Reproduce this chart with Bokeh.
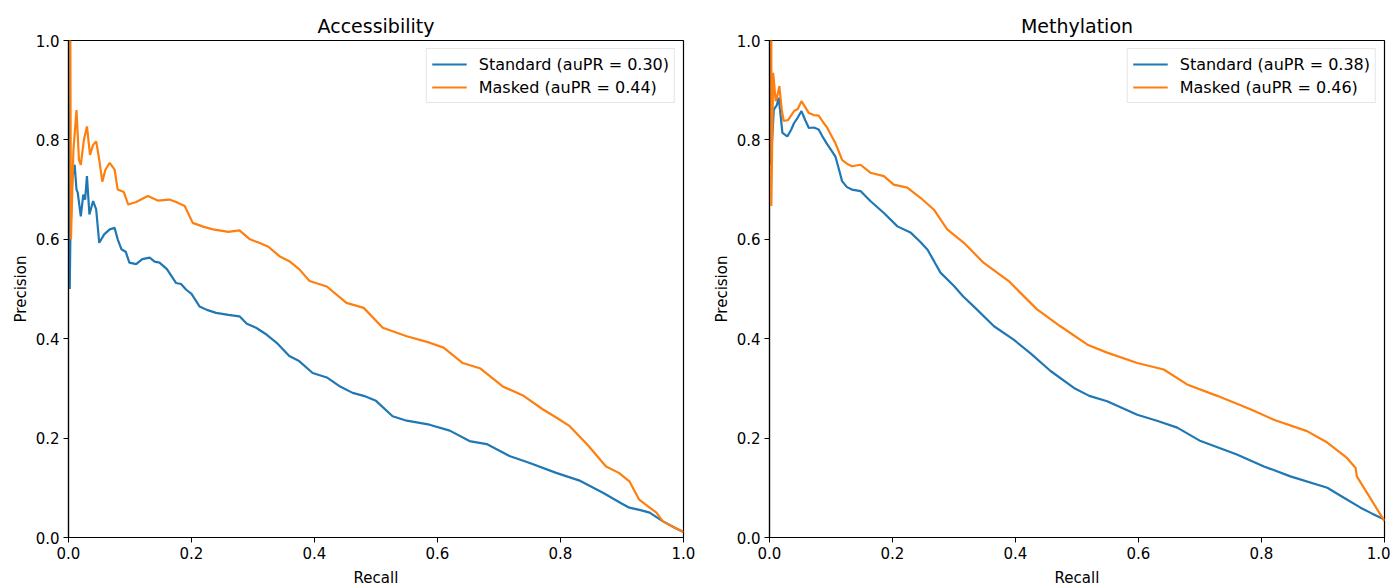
from bokeh.plotting import figure
from bokeh.layouts import row
from bokeh.models import Range1d, FixedTicker, NumeralTickFormatter, Legend, LegendItem
from bokeh.embed import file_html
from bokeh.resources import INLINE

# values
titles = ["Accessibility", "Methylation"]
aupr_standard = [0.30, 0.38]
aupr_masked = [0.44, 0.46]
ticks = [0.0, 0.2, 0.4, 0.6, 0.8, 1.0]

acc_std_recall = [0, 0.002, 0.003, 0.006, 0.01, 0.013, 0.015, 0.02, 0.024, 0.027, 0.03, 0.034, 0.04, 0.045,
                  0.05, 0.058, 0.067, 0.075, 0.08, 0.086, 0.093, 0.099, 0.11, 0.12, 0.132, 0.14, 0.148, 0.16,
                  0.175, 0.183, 0.191, 0.2, 0.213, 0.225, 0.24, 0.26, 0.278, 0.29, 0.305, 0.32, 0.34, 0.359,
                  0.375, 0.397, 0.42, 0.44, 0.462, 0.48, 0.5, 0.527, 0.55, 0.587, 0.62, 0.652, 0.68, 0.717,
                  0.75, 0.793, 0.83, 0.869, 0.9, 0.912, 0.93, 0.945, 0.966, 0.985, 1.0]
acc_std_prec = [1.0, 0.5, 0.6, 0.72, 0.75, 0.70, 0.694, 0.646, 0.69, 0.68, 0.727, 0.65, 0.677, 0.66,
                0.593, 0.61, 0.62, 0.623, 0.6, 0.58, 0.575, 0.553, 0.55, 0.56, 0.563, 0.555, 0.553, 0.54,
                0.512, 0.51, 0.499, 0.49, 0.465, 0.458, 0.452, 0.448, 0.445, 0.43, 0.422, 0.41, 0.39, 0.365,
                0.355, 0.331, 0.322, 0.305, 0.291, 0.285, 0.275, 0.244, 0.235, 0.227, 0.215, 0.194, 0.188, 0.164,
                0.15, 0.13, 0.115, 0.09, 0.068, 0.06, 0.055, 0.05, 0.033, 0.02, 0.011]

acc_msk_recall = [0, 0.003, 0.004, 0.008, 0.013, 0.017, 0.02, 0.025, 0.03, 0.035, 0.04, 0.045, 0.05, 0.055,
                  0.06, 0.067, 0.075, 0.08, 0.09, 0.097, 0.11, 0.129, 0.145, 0.164, 0.175, 0.189, 0.202, 0.22,
                  0.235, 0.26, 0.278, 0.295, 0.31, 0.325, 0.343, 0.359, 0.375, 0.392, 0.42, 0.452, 0.48, 0.511,
                  0.55, 0.587, 0.61, 0.641, 0.67, 0.706, 0.74, 0.771, 0.795, 0.815, 0.845, 0.874, 0.895, 0.912,
                  0.928, 0.945, 0.956, 0.966, 0.985, 1.0]
acc_msk_prec = [1.0, 1.0, 0.6, 0.78, 0.86, 0.76, 0.75, 0.80, 0.827, 0.77, 0.79, 0.797, 0.76, 0.716,
                0.74, 0.754, 0.74, 0.70, 0.695, 0.67, 0.675, 0.687, 0.678, 0.68, 0.675, 0.667, 0.633, 0.625,
                0.62, 0.615, 0.618, 0.60, 0.593, 0.585, 0.566, 0.556, 0.54, 0.516, 0.505, 0.472, 0.462, 0.422,
                0.405, 0.392, 0.382, 0.351, 0.34, 0.304, 0.285, 0.258, 0.24, 0.224, 0.185, 0.143, 0.13, 0.113,
                0.076, 0.06, 0.05, 0.033, 0.02, 0.011]

met_std_recall = [0, 0.002, 0.007, 0.012, 0.015, 0.018, 0.021, 0.029, 0.035, 0.04, 0.046, 0.052, 0.058, 0.064,
                  0.072, 0.08, 0.087, 0.094, 0.1, 0.107, 0.112, 0.118, 0.126, 0.134, 0.148, 0.164, 0.186, 0.208,
                  0.23, 0.245, 0.257, 0.268, 0.278, 0.3, 0.315, 0.332, 0.365, 0.397, 0.425, 0.457, 0.495, 0.52,
                  0.549, 0.598, 0.63, 0.663, 0.701, 0.76, 0.804, 0.847, 0.907, 0.934, 0.961, 0.98, 1.0]
met_std_prec = [1.0, 0.75, 0.861, 0.87, 0.885, 0.85, 0.814, 0.807, 0.82, 0.834, 0.845, 0.858, 0.84, 0.824,
                0.825, 0.821, 0.805, 0.791, 0.78, 0.767, 0.745, 0.717, 0.705, 0.70, 0.697, 0.677, 0.653, 0.626,
                0.613, 0.595, 0.579, 0.555, 0.533, 0.506, 0.485, 0.465, 0.425, 0.398, 0.37, 0.335, 0.301, 0.285,
                0.274, 0.247, 0.235, 0.221, 0.194, 0.167, 0.143, 0.123, 0.10, 0.08, 0.06, 0.048, 0.036]

met_msk_recall = [0, 0.003, 0.003, 0.006, 0.01, 0.013, 0.016, 0.02, 0.023, 0.03, 0.04, 0.046, 0.052, 0.058,
                  0.064, 0.072, 0.08, 0.087, 0.094, 0.1, 0.107, 0.118, 0.126, 0.134, 0.148, 0.164, 0.186, 0.202,
                  0.224, 0.246, 0.267, 0.289, 0.316, 0.348, 0.359, 0.389, 0.435, 0.473, 0.517, 0.549, 0.598, 0.641,
                  0.679, 0.728, 0.782, 0.82, 0.874, 0.907, 0.939, 0.953, 0.955, 1.0]
met_msk_prec = [1.0, 1.0, 0.667, 0.935, 0.878, 0.89, 0.908, 0.86, 0.838, 0.84, 0.858, 0.862, 0.878, 0.866,
                0.854, 0.85, 0.849, 0.836, 0.824, 0.81, 0.794, 0.76, 0.752, 0.747, 0.75, 0.734, 0.727, 0.71,
                0.704, 0.683, 0.66, 0.62, 0.593, 0.553, 0.543, 0.516, 0.459, 0.425, 0.388, 0.372, 0.351, 0.338,
                0.308, 0.285, 0.258, 0.237, 0.214, 0.191, 0.16, 0.14, 0.123, 0.033]

FONT = "DejaVu Sans"
BLUE = "#1f77b4"
ORANGE = "#ff7f0e"


def make_panel(title, std_r, std_p, msk_r, msk_p, std_auc, msk_auc, left, right):
    p = figure(frame_width=615, frame_height=497, output_backend="svg", toolbar_location=None,
               x_range=Range1d(0, 1), y_range=Range1d(0, 1),
               x_axis_label="Recall", y_axis_label="Precision",
               min_border_left=left, min_border_right=right, min_border_top=40, min_border_bottom=40)
    p.title.text = title
    p.title.align = "center"
    p.title.text_font = FONT
    p.title.text_font_size = "19px"
    p.title.text_font_style = "normal"
    p.title.text_color = "black"
    p.title.standoff = 7
    p.grid.visible = False
    p.outline_line_color = "black"
    p.outline_line_alpha = 1
    p.outline_line_width = 1.2
    for ax in (p.xaxis, p.yaxis):
        ax.ticker = FixedTicker(ticks=ticks)
        ax.formatter = NumeralTickFormatter(format="0.0")
        ax.axis_line_color = "black"
        ax.axis_line_width = 1.2
        ax.major_tick_line_color = "black"
        ax.major_tick_in = 0
        ax.major_tick_out = 5
        ax.minor_tick_line_color = None
        ax.major_label_text_font = FONT
        ax.major_label_text_font_size = "15px"
        ax.major_label_text_color = "black"
        ax.major_label_standoff = 4
        ax.axis_label_text_font = FONT
        ax.axis_label_text_font_size = "15px"
        ax.axis_label_text_font_style = "normal"
        ax.axis_label_text_color = "black"
        ax.axis_label_standoff = 3
    p.xaxis.axis_label_standoff = 7

    r1 = p.line(std_r, std_p, line_color=BLUE, line_width=2.2)
    r2 = p.line(msk_r, msk_p, line_color=ORANGE, line_width=2.2)

    legend = Legend(items=[LegendItem(label="Standard (auPR = %.2f)" % std_auc, renderers=[r1]),
                           LegendItem(label="Masked (auPR = %.2f)" % msk_auc, renderers=[r2])],
                    location="top_right")
    legend.label_text_font = FONT
    legend.label_text_font_size = "16px"
    legend.label_text_color = "black"
    legend.glyph_width = 35
    legend.glyph_height = 20
    legend.label_height = 20
    legend.label_standoff = 12
    legend.spacing = 3
    legend.padding = 5
    legend.margin = 8
    legend.border_line_color = "#cccccc"
    legend.border_line_width = 1
    legend.background_fill_alpha = 0.8
    p.add_layout(legend)
    return p


p1 = make_panel(titles[0], acc_std_recall, acc_std_prec, acc_msk_recall, acc_msk_prec,
                aupr_standard[0], aupr_masked[0], 68, 16)
p2 = make_panel(titles[1], met_std_recall, met_std_prec, met_msk_recall, met_msk_prec,
                aupr_standard[1], aupr_masked[1], 70, 6)

p = row(p1, p2, spacing=0)
open("out.html", "w").write(file_html(p, INLINE))
